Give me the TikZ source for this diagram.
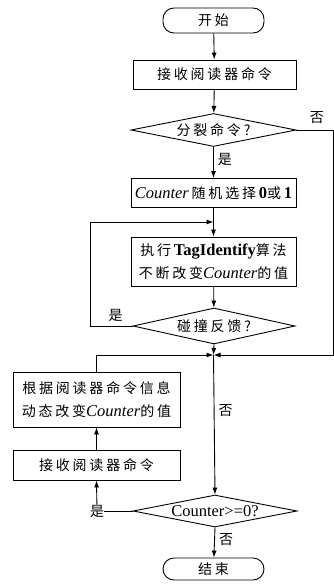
\documentclass[tikz,border=0pt]{standalone}
\usepackage{fontspec}
\setmainfont{Liberation Serif}
\newfontfamily\cjk[LetterSpace=20]{Noto Sans CJK SC}
\newcommand\zh[1]{{\cjk\fontsize{14}{23}\selectfont #1}}
\usetikzlibrary{shapes.geometric,arrows.meta}
\begin{document}
\begin{tikzpicture}[x=1pt,y=1pt,
  every node/.style={font=\fontsize{16.5}{23}\selectfont, inner sep=0pt},
  proc/.style={draw, line width=0.9pt, align=center},
  term/.style={draw, line width=0.9pt, rounded corners=11pt},
  dec/.style={draw, line width=0.9pt, diamond, aspect=5},
  lbl/.style={font=\fontsize{14}{14}\selectfont},
  line/.style={line width=0.9pt},
  arr/.style={line width=0.9pt, -{Latex[length=7pt,width=5pt]}}]
\useasboundingbox (0,0) rectangle (334,-586);
\node[term, minimum width=101, minimum height=25] (start) at (213.5,-20.5) {\zh{开始}};
\node[proc, minimum width=163, minimum height=29] (b1) at (214.5,-74.5) {\zh{接收阅读器命令}};
\node[dec, minimum width=165, minimum height=33] (d1) at (213.5,-130) {\zh{分裂命令?}};
\node[proc, minimum width=165, minimum height=29] (b2) at (213.5,-193) {\textit{Counter}\,\zh{随机选择}\textbf{0}\zh{或}\textbf{1}};
\node[proc, minimum width=165, minimum height=49] (b3) at (213.5,-261.5) {\zh{执行}\textbf{TagIdentify}\zh{算法}\\\zh{不断改变}\textit{Counter}\zh{的值}};
\node[dec, minimum width=162, minimum height=36] (d2) at (214,-326) {\zh{碰撞反馈?}};
\coordinate (j) at (213.5,-355);
\coordinate (loop) at (213.5,-222);
\node[proc, minimum width=167, minimum height=55] (b4) at (96.5,-399.5) {\zh{根据阅读器命令信息}\\\zh{动态改变}\textit{Counter}\zh{的值}};
\node[proc, minimum width=167, minimum height=30] (b5) at (96.5,-465) {\zh{接收阅读器命令}};
\node[dec, minimum width=164, minimum height=32] (d3) at (215,-511) {Counter>=0?};
\node[term, minimum width=101, minimum height=22] (end) at (213.5,-569) {\zh{结束}};
\node[lbl] (yes3) at (97,-511) {\zh{是}};
\coordinate (r1) at (333.5,-130);
\coordinate (r2) at (333.5,-355);
\coordinate (l1) at (90,-326);
\coordinate (l2) at (90,-222);
\coordinate (l3) at (96.5,-355);
% connectors
\draw[arr] (start) -- (b1);
\draw[arr] (b1) -- (d1);
\draw[arr] (d1) -- node[lbl, right=4pt, pos=0.4] {\zh{是}} (b2);
\draw[line] (d1.east) -- node[lbl, above=6pt, pos=0.55] {\zh{否}} (r1) -- (r2);
\draw[arr] (r2) -- (j);
\draw[line] (b2.south) -- (loop);
\draw[arr] (loop) -- (b3);
\draw[arr] (b3) -- (d2);
\draw[line] (d2.west) -- node[lbl, above=4pt, pos=0.4] {\zh{是}} (l1) -- (l2);
\draw[arr] (l2) -- (loop);
\draw[arr] (d2.south) -- (j);
\draw[line] (b4.north) -- (l3);
\draw[arr] (l3) -- (j);
\draw[arr] (j) -- node[lbl, right=4pt, pos=0.4] {\zh{否}} (d3.north);
\draw[line] (d3.west) -- (yes3);
\draw[arr] (yes3) -- (b5.south);
\draw[arr] (b5) -- (b4);
\draw[arr] (d3.south) -- node[lbl, right=4pt, pos=0.4] {\zh{否}} (end);
\end{tikzpicture}
\end{document}
